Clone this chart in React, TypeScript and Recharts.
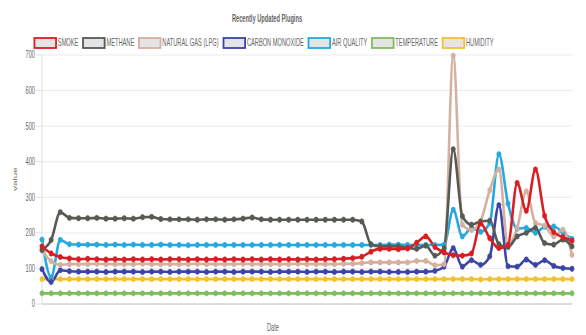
import { LineChart, Line, XAxis, YAxis, CartesianGrid } from "recharts";

const smoke = [
  162, 142, 132, 128, 126, 127, 126, 125, 126, 125,
  126, 125, 126, 125, 126, 126, 125, 126, 125, 126,
  125, 126, 125, 126, 125, 126, 125, 126, 125, 126,
  125, 126, 126, 127, 129, 133, 147, 155, 155, 154,
  156, 172, 190, 160, 145, 137, 136, 142, 226, 185,
  157, 166, 340, 262, 378, 248, 202, 188, 178,
];
const methane = [
  152, 180, 258, 242, 241, 241, 242, 240, 240, 241,
  240, 244, 245, 239, 238, 238, 238, 237, 238, 238,
  237, 238, 240, 243, 238, 237, 237, 237, 237, 237,
  237, 237, 237, 237, 237, 232, 168, 162, 162, 162,
  158, 155, 164, 136, 157, 435, 247, 223, 232, 234,
  168, 160, 190, 200, 214, 171, 167, 181, 162,
];
const naturalGas = [
  150, 120, 110, 112, 112, 112, 113, 112, 112, 112,
  112, 113, 112, 112, 112, 112, 112, 113, 112, 112,
  112, 112, 113, 112, 112, 112, 112, 112, 113, 112,
  112, 112, 112, 113, 113, 115, 117, 117, 117, 117,
  117, 121, 121, 109, 112, 698, 223, 208, 233, 320,
  378, 165, 214, 317, 228, 220, 190, 209, 138,
];
const carbonMonoxide = [
  98, 62, 95, 92, 91, 91, 91, 90, 91, 91,
  91, 90, 91, 91, 90, 91, 91, 91, 90, 91,
  91, 90, 91, 91, 91, 90, 91, 91, 91, 90,
  91, 91, 90, 91, 91, 90, 91, 91, 90, 90,
  90, 91, 91, 93, 105, 157, 105, 123, 110, 134,
  278, 106, 105, 125, 110, 123, 107, 101, 99,
];
const airQuality = [
  181, 75, 180, 168, 167, 167, 167, 166, 167, 166,
  167, 166, 166, 167, 166, 166, 165, 166, 166, 166,
  166, 166, 166, 166, 166, 166, 166, 166, 166, 166,
  166, 166, 166, 166, 166, 166, 166, 166, 167, 167,
  166, 166, 166, 166, 167, 265, 190, 214, 203, 228,
  421, 282, 212, 214, 200, 217, 218, 201, 183,
];
const temperature = [
  30, 30, 30, 30, 30, 30, 30, 30, 30, 30,
  30, 30, 30, 30, 30, 30, 30, 30, 30, 30,
  30, 30, 30, 30, 30, 30, 30, 30, 30, 30,
  30, 30, 30, 30, 30, 30, 30, 30, 30, 30,
  30, 30, 30, 30, 30, 30, 30, 30, 30, 30,
  30, 30, 30, 30, 30, 30, 30, 30, 30,
];
const humidity = [
  70, 70, 70, 70, 70, 70, 70, 70, 70, 70,
  70, 70, 70, 70, 70, 70, 70, 70, 70, 70,
  70, 70, 70, 70, 70, 70, 70, 70, 70, 70,
  70, 70, 70, 70, 70, 70, 70, 70, 70, 70,
  70, 70, 70, 70, 70, 70, 70, 70, 69, 70,
  70, 70, 70, 70, 70, 70, 70, 70, 70,
];

const yTicks = [0, 100, 200, 300, 400, 500, 600, 700];

const series = [
  { key: "smoke", name: "SMOKE", color: "#d81e22", values: smoke },
  { key: "methane", name: "METHANE", color: "#555a52", values: methane },
  { key: "lpg", name: "NATURAL GAS (LPG)", color: "#d6b09e", values: naturalGas },
  { key: "co", name: "CARBON MONOXIDE", color: "#3b45a6", values: carbonMonoxide },
  { key: "air", name: "AIR QUALITY", color: "#27a8df", values: airQuality },
  { key: "temp", name: "TEMPERATURE", color: "#7fbd5c", values: temperature },
  { key: "hum", name: "HUMIDITY", color: "#f2c12e", values: humidity },
];

const rows = smoke.map((_, i) => {
  const r: Record<string, number> = { idx: i };
  series.forEach((s) => (r[s.key] = s.values[i]));
  return r;
});

// the reference looks squeezed horizontally, so text is narrowed the same way
const SQ = 0.57;
const FONT = "'Liberation Sans', Arial, Helvetica, sans-serif";
const squeeze = (x: number, y: number) =>
  `translate(${x} ${y}) scale(${SQ} 1) translate(${-x} ${-y})`;

let ctx: CanvasRenderingContext2D | null = null;
function textWidth(t: string) {
  if (!ctx) ctx = document.createElement("canvas").getContext("2d");
  if (!ctx) return t.length * 6.5;
  ctx.font = `10px ${FONT}`;
  return ctx.measureText(t).width;
}

function YTick({ x, y, payload }: any) {
  return (
    <text
      x={x}
      y={y}
      dy={3.5}
      textAnchor="end"
      fontSize={10}
      fontFamily={FONT}
      fill="#666"
      transform={squeeze(x, y)}
    >
      {payload.value}
    </text>
  );
}

function TopLegend() {
  const BOX = 21.6;
  const GAP = 1.8;
  const PAD = 4.6;
  const widths = series.map((s) => textWidth(s.name) * SQ);
  const total =
    widths.reduce((a, b) => a + b, 0) +
    series.length * (BOX + GAP) +
    (series.length - 1) * PAD;
  let x = 264 - total / 2;
  const items = series.map((s, i) => {
    const bx = x;
    const tx = bx + BOX + GAP;
    x += BOX + GAP + widths[i] + PAD;
    return (
      <g key={s.key}>
        <rect x={bx} y={38} width={BOX} height={10} fill="#e4e4e4" stroke={s.color} strokeWidth={1.8} />
        <text
          x={tx}
          y={46.5}
          fontSize={10}
          fontFamily={FONT}
          fill="#666"
          transform={squeeze(tx, 46.5)}
        >
          {s.name}
        </text>
      </g>
    );
  });
  return (
    <svg width={586} height={60} style={{ position: "absolute", left: 0, top: 0, pointerEvents: "none" }}>
      <text
        x={267}
        y={22.5}
        textAnchor="middle"
        fontSize={10}
        fontWeight="bold"
        fontFamily={FONT}
        fill="#666"
        transform={squeeze(267, 22.5)}
      >
        Recently Updated Plugins
      </text>
      {items}
    </svg>
  );
}

const makeDot = (color: string, name: string) => (p: any) =>
  <ellipse key={`${name}-${p.index}`} cx={p.cx} cy={p.cy} rx={2.1} ry={2.7} fill={color} stroke={color} strokeWidth={0.6} />;

export default function App() {
  return (
    <div style={{ position: "absolute", left: 0, top: 0, width: 586, height: 335, background: "#fff" }}>
      <LineChart width={586} height={335} data={rows} margin={{ top: 55, right: 14, bottom: 0, left: 0 }}>
        <CartesianGrid vertical={false} stroke="#ebebeb" />
        <XAxis
          dataKey="idx"
          height={31}
          tick={false}
          tickLine={false}
          axisLine={{ stroke: "#c4c4c4" }}
          label={{
            value: "Date",
            content: () => (
              <text x={273} y={331} textAnchor="middle" fontSize={10} fontFamily={FONT} fill="#666" transform={squeeze(273, 331)}>
                Date
              </text>
            ),
          }}
        />
        <YAxis
          width={42}
          domain={[0, 700]}
          ticks={yTicks}
          interval={0}
          tickSize={6}
          tickMargin={1}
          tick={<YTick />}
          tickLine={{ stroke: "#e0e0e0" }}
          axisLine={{ stroke: "#e0e0e0" }}
          label={{
            value: "value",
            content: () => (
              <text
                x={0}
                y={0}
                textAnchor="middle"
                fontSize={10}
                fontFamily={FONT}
                fill="#666"
                transform={`translate(17 179) scale(${SQ} 1) rotate(-90)`}
              >
                value
              </text>
            ),
          }}
        />
        {[...series].reverse().map((s) => (
          <Line
            key={s.key}
            dataKey={s.key}
            name={s.name}
            type="monotone"
            stroke={s.color}
            strokeWidth={2.6}
            dot={makeDot(s.color, s.key)}
            activeDot={false}
            isAnimationActive={false}
          />
        ))}
      </LineChart>
      <TopLegend />
    </div>
  );
}
